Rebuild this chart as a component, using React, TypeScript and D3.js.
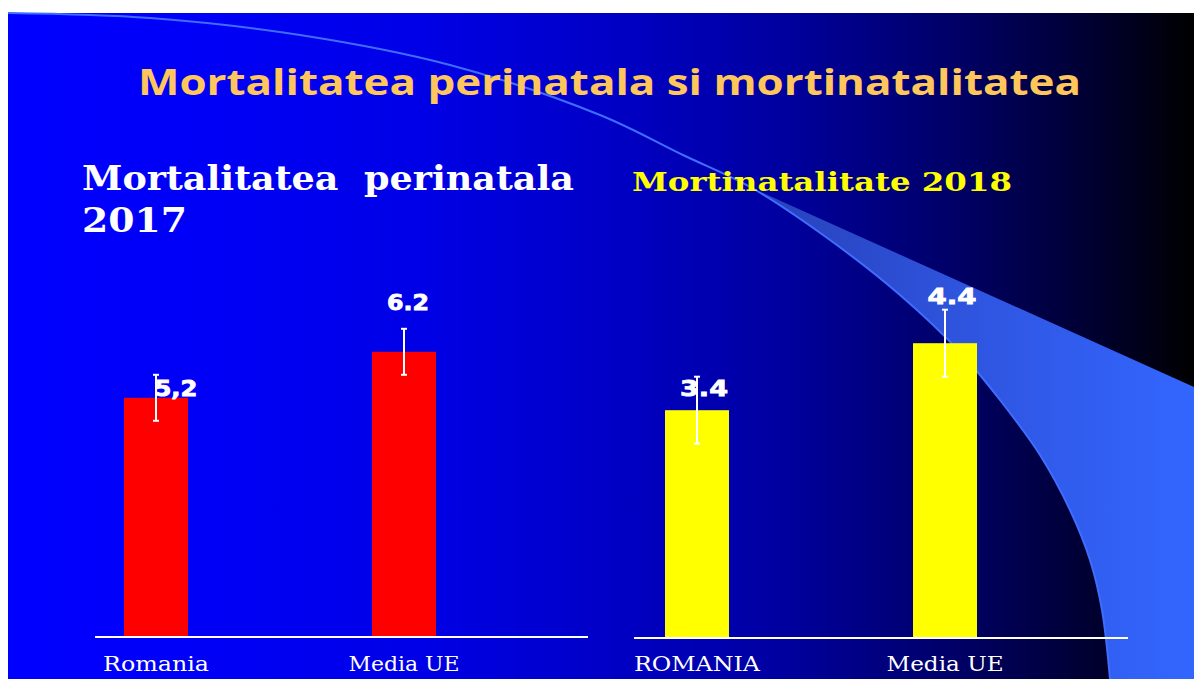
import React from "react";
import * as d3 from "d3";

// ---- data ----
const categoriesLeft = ["Romania", "Media UE"];
const valuesLeft = [5.2, 6.2];
const errorsLeft = [0.5, 0.5];
const valueLabelsLeft = ["5,2", "6.2"];

const categoriesRight = ["ROMANIA", "Media UE"];
const valuesRight = [3.4, 4.4];
const errorsRight = [0.5, 0.5];
const valueLabelsRight = ["3.4", "4.4"];

const mainTitle = "Mortalitatea perinatala si mortinatalitatea";
const leftTitle = ["Mortalitatea  perinatala", "2017"];
const rightTitle = "Mortinatalitate 2018";

// ---- styling (not data) ----
const W = 1194;
const H = 679;
const labelDxLeft = [20, 4];
const labelDyLeft = [-2, -42];
const labelDxRight = [7, 7];
const labelDyRight = [-14, -39];
const catWidthsLeft = [106, 111];
const catWidthsRight = [126, 117];
const valueLabelWidths = [43, 42, 48, 49];

// decorative swoosh (page coordinates)
const swooshPts: [number, number][] = [
  [8, 13], [150, 18], [300, 35], [450, 65], [600, 115], [683, 155], [752, 188],
  [830, 240], [900, 295], [960, 352], [1000, 400], [1040, 455], [1070, 510],
  [1090, 560], [1102, 610], [1110, 679],
];

export default function App() {
  // left chart scales
  const xL = d3.scaleBand<string>().domain(categoriesLeft).range([124, 436]).paddingInner(0.742).paddingOuter(0);
  const yL = d3.scaleLinear().domain([0, 7]).range([637, 637 - 7 * 46]);
  // right chart scales
  const xR = d3.scaleBand<string>().domain(categoriesRight).range([665, 977]).paddingInner(0.742).paddingOuter(0);
  const yR = d3.scaleLinear().domain([0, 5]).range([638, 638 - 5 * 67]);

  const line = d3.line<[number, number]>().curve(d3.curveCatmullRom.alpha(0.5));
  const thinPath = line(swooshPts) || "";
  const lowerIdx = swooshPts.findIndex((p) => p[0] === 752);
  const lower = swooshPts.slice(lowerIdx);
  const lowerRev = lower.slice().reverse();
  const wedgePath =
    "M752,188 L1194,387 L1194,679 L1110,679 " +
    (line(lowerRev) || "").replace(/^M/, "L");

  const bars = (
    cats: string[], vals: number[], errs: number[], labs: string[],
    x: d3.ScaleBand<string>, y: d3.ScaleLinear<number, number>, color: string,
    dxs: number[], dys: number[], lw: number[], catW: number[], axisX: [number, number], axisY: number
  ) => (
    <g>
      {cats.map((c, i) => {
        const x0 = x(c)!;
        const bw = x.bandwidth();
        const cx = x0 + bw / 2;
        return (
          <g key={c}>
            <rect x={x0} y={y(vals[i])} width={bw} height={y(0) - y(vals[i])} fill={color} />
            <line x1={cx} x2={cx} y1={y(vals[i] + errs[i])} y2={y(vals[i] - errs[i])} stroke="#fff" strokeWidth={2} />
            <line x1={cx - 3} x2={cx + 3} y1={y(vals[i] + errs[i])} y2={y(vals[i] + errs[i])} stroke="#fff" strokeWidth={2} />
            <line x1={cx - 3} x2={cx + 3} y1={y(vals[i] - errs[i])} y2={y(vals[i] - errs[i])} stroke="#fff" strokeWidth={2} />
            <text x={cx + dxs[i]} y={y(vals[i]) + dys[i]} textAnchor="middle" fill="#fff"
              fontFamily="'DejaVu Sans', sans-serif" fontWeight={900} fontSize={21}
              stroke="#fff" strokeWidth={0.8}
              textLength={lw[i]} lengthAdjust="spacingAndGlyphs">{labs[i]}</text>
            <text x={cx} y={671} textAnchor="middle" fill="#fff"
              fontFamily="'DejaVu Serif', serif" fontSize={20}
              textLength={catW[i]} lengthAdjust="spacingAndGlyphs">{c}</text>
          </g>
        );
      })}
      <line x1={axisX[0]} x2={axisX[1]} y1={axisY} y2={axisY} stroke="#fff" strokeWidth={2} />
    </g>
  );

  return (
    <svg width={W} height={H} style={{ display: "block", position: "absolute", left: 0, top: 0 }}>
      <defs>
        <linearGradient id="bg" x1="8" x2="1194" y1="0" y2="0" gradientUnits="userSpaceOnUse">
          <stop offset="0" stopColor="#0000ff" />
          <stop offset="0.15" stopColor="#0000f8" />
          <stop offset="0.35" stopColor="#0000e6" />
          <stop offset="0.5" stopColor="#0000c8" />
          <stop offset="0.65" stopColor="#0000a0" />
          <stop offset="0.8" stopColor="#000066" />
          <stop offset="0.92" stopColor="#00002e" />
          <stop offset="1" stopColor="#000000" />
        </linearGradient>
        <linearGradient id="wedge" x1="752" x2="1194" y1="0" y2="0" gradientUnits="userSpaceOnUse">
          <stop offset="0" stopColor="#2740b8" />
          <stop offset="0.5" stopColor="#2f55e0" />
          <stop offset="1" stopColor="#3366ff" />
        </linearGradient>
      </defs>
      <rect x={0} y={0} width={W} height={H} fill="#fff" />
      <rect x={8} y={13} width={W - 8} height={H - 13} fill="url(#bg)" />
      <path d={wedgePath} fill="url(#wedge)" />
      <path d={thinPath} fill="none" stroke="#3f6dff" strokeWidth={2} />

      <text x={138} y={95} fill="#ffc65c" fontFamily="'Open Sans', sans-serif" fontWeight={700} fontSize={35}
        textLength={943} lengthAdjust="spacingAndGlyphs">{mainTitle}</text>

      <text x={82} y={190} fill="#fff" fontFamily="'DejaVu Serif', serif" fontWeight={700} fontSize={33}
        textLength={492} lengthAdjust="spacingAndGlyphs" style={{ whiteSpace: "pre" }}>{leftTitle[0]}</text>
      <text x={82} y={232} fill="#fff" fontFamily="'DejaVu Serif', serif" fontWeight={700} fontSize={33}
        textLength={105} lengthAdjust="spacingAndGlyphs">{leftTitle[1]}</text>

      <text x={632} y={191} fill="#ffff00" fontFamily="'DejaVu Serif', serif" fontWeight={700} fontSize={26}
        textLength={380} lengthAdjust="spacingAndGlyphs">{rightTitle}</text>

      {bars(categoriesLeft, valuesLeft, errorsLeft, valueLabelsLeft, xL, yL, "#ff0000",
        labelDxLeft, labelDyLeft, valueLabelWidths.slice(0, 2), catWidthsLeft, [95, 588], 637)}
      {bars(categoriesRight, valuesRight, errorsRight, valueLabelsRight, xR, yR, "#ffff00",
        labelDxRight, labelDyRight, valueLabelWidths.slice(2), catWidthsRight, [634, 1128], 638)}
    </svg>
  );
}
